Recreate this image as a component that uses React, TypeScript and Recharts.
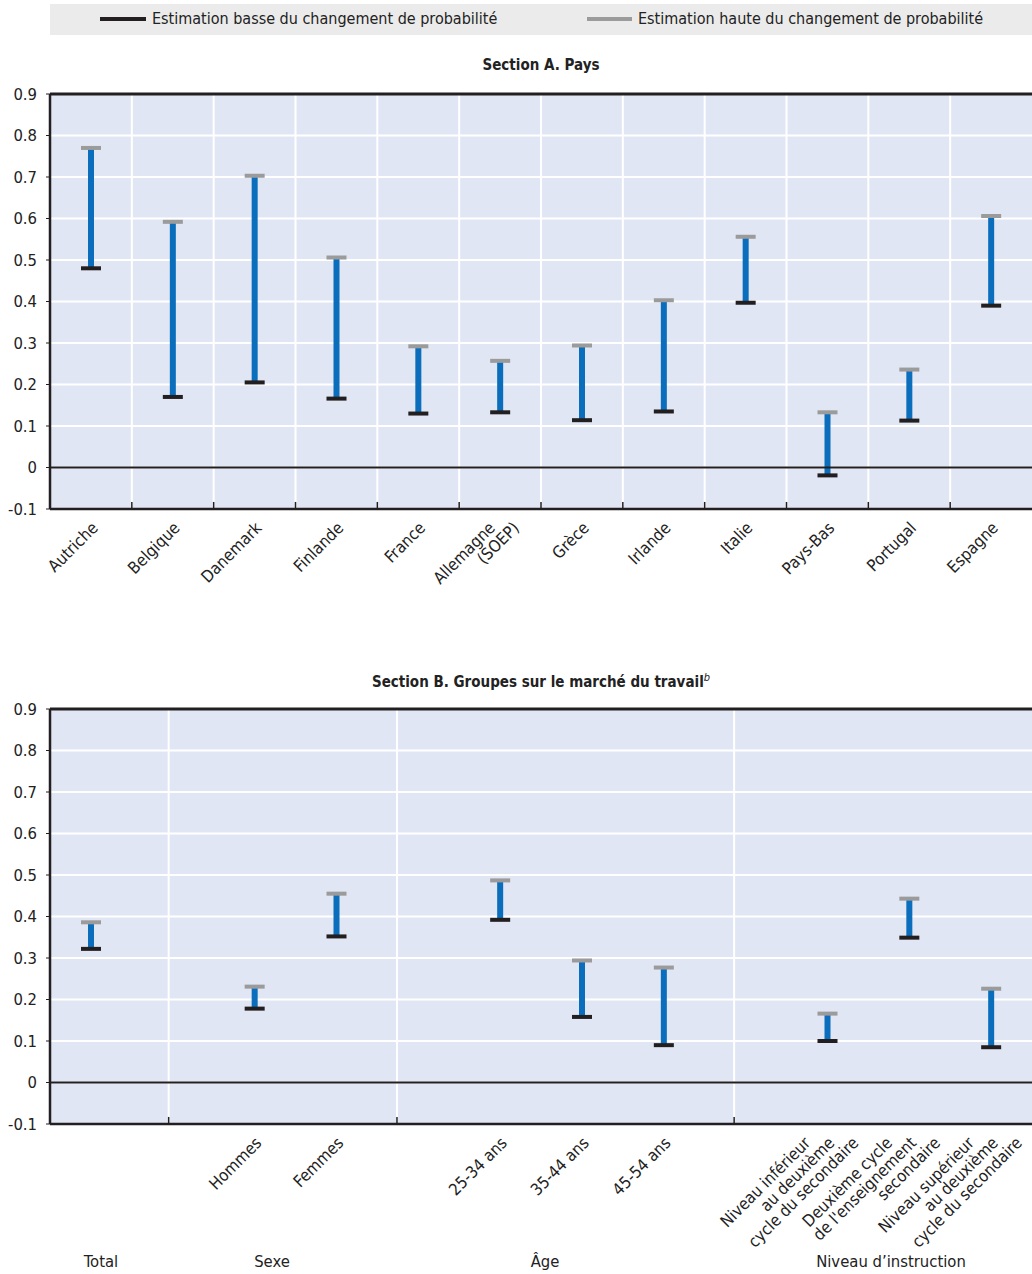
import { BarChart, Bar, XAxis, YAxis, CartesianGrid, ReferenceLine } from "recharts";

const FONT = "'Liberation Sans Narrow', 'DejaVu Sans Condensed', 'Liberation Sans', sans-serif";

// Section A
const countries = [
  "Autriche", "Belgique", "Danemark", "Finlande", "France", "Allemagne (SOEP)",
  "Grèce", "Irlande", "Italie", "Pays-Bas", "Portugal", "Espagne",
];
const countryLow = [0.48, 0.17, 0.205, 0.166, 0.13, 0.133, 0.114, 0.135, 0.397, -0.019, 0.113, 0.39];
const countryHigh = [0.77, 0.592, 0.703, 0.506, 0.292, 0.257, 0.294, 0.403, 0.556, 0.133, 0.236, 0.606];

// Section B (empty slots between groups)
const groupSlots = [
  "Total", "", "Hommes", "Femmes", " ", "25-34 ans", "35-44 ans", "45-54 ans", "  ",
  "Niveau inférieur au deuxième cycle du secondaire",
  "Deuxième cycle de l'enseignement secondaire",
  "Niveau supérieur au deuxième cycle du secondaire",
];
const groupLow = [0.322, null, 0.178, 0.352, null, 0.392, 0.158, 0.09, null, 0.1, 0.349, 0.085];
const groupHigh = [0.386, null, 0.231, 0.455, null, 0.487, 0.294, 0.277, null, 0.166, 0.443, 0.226];
const groupNames = ["Total", "Sexe", "Âge", "Niveau d’instruction"];
const groupSeparators = [1.45, 4.24, 8.36];

const yTicks = [-0.1, 0, 0.1, 0.2, 0.3, 0.4, 0.5, 0.6, 0.7, 0.8, 0.9];
const countrySeparators = [1, 2, 3, 4, 5, 6, 7, 8, 9, 10, 11];

// "Total" only appears as a group label under the axis
const labelLines: Record<string, string[]> = {
  "Total": [],
  "Allemagne (SOEP)": ["Allemagne", "(SOEP)"],
  "Niveau inférieur au deuxième cycle du secondaire": ["Niveau inférieur", "au deuxième", "cycle du secondaire"],
  "Deuxième cycle de l'enseignement secondaire": ["Deuxième cycle", "de l'enseignement", "secondaire"],
  "Niveau supérieur au deuxième cycle du secondaire": ["Niveau supérieur", "au deuxième", "cycle du secondaire"],
};

const countryData = countries.map((name, i) => ({ name, pos: i + 0.5, range: [countryLow[i], countryHigh[i]] }));
const groupData = groupSlots.map((name, i) =>
  ({ name, pos: i + 0.5, range: groupLow[i] == null ? null : [groupLow[i], groupHigh[i]] }));

const BLUE = "#0A6EBD";
const GREY = "#9B9B9B";
const DARK = "#231F20";
const PLOT_BG = "#E0E6F3";

function RangeShape(props: any) {
  const { x, y, width, height, payload } = props;
  if (!payload || payload.range == null) return null;
  const cx = x + width / 2;
  const top = Math.min(y, y + height);
  const bottom = Math.max(y, y + height);
  return (
    <g>
      <rect x={cx - 3} y={top} width={6} height={bottom - top} fill={BLUE} />
      <rect x={cx - 10} y={top - 2} width={20} height={4} fill={GREY} />
      <rect x={cx - 10} y={bottom - 2} width={20} height={4} fill={DARK} />
    </g>
  );
}

function AngledTick(props: any) {
  const { x, y, payload } = props;
  const value = String(payload.value);
  if (!value.trim()) return null;
  const lines = labelLines[value] || [value];
  const n = lines.length;
  return (
    <g>
      {lines.map((line, i) => (
        <text
          key={i}
          transform={`translate(${x + 8 + (i - (n - 1) / 2) * 24},${y + 12}) rotate(-45)`}
          textAnchor="end"
          fontSize={16.5}
          fontFamily={FONT}
          fill="#222"
        >
          {line}
        </text>
      ))}
    </g>
  );
}

const fmt = (v: number) => (v === 0 ? "0" : v.toFixed(1));

function Panel({ data, separators, height, xHeight }: any) {
  return (
    <BarChart
      width={1032}
      height={height}
      data={data}
      margin={{ top: 10, right: 0, bottom: 0, left: 0 }}
      barSize={6}
    >
      <CartesianGrid vertical={false} stroke="#fff" strokeWidth={2} fill={PLOT_BG} />
      <XAxis
        xAxisId="cat"
        dataKey="name"
        interval={0}
        height={xHeight}
        tickLine={false}
        axisLine={{ stroke: DARK, strokeWidth: 2.5 }}
        tick={<AngledTick />}
      />
      <XAxis xAxisId="num" dataKey="pos" type="number" domain={[0, 12]} hide allowDataOverflow />
      <YAxis
        domain={[-0.1, 0.9]}
        ticks={yTicks}
        width={50}
        tickFormatter={fmt}
        axisLine={{ stroke: DARK, strokeWidth: 2.5 }}
        tickLine={{ stroke: DARK }}
        tickSize={4}
        tickMargin={9}
        tick={{ fontSize: 16.5, fontFamily: FONT, fill: "#222" }}
        allowDataOverflow
      />
      {separators.map((s: number) => (
        <ReferenceLine key={"g" + s} xAxisId="num" x={s} stroke="#fff" strokeWidth={2} />
      ))}
      {separators.map((s: number) => (
        <ReferenceLine
          key={"t" + s}
          xAxisId="num"
          segment={[{ x: s, y: -0.1 }, { x: s, y: -0.083 }]}
          stroke={DARK}
          strokeWidth={1.5}
        />
      ))}
      <ReferenceLine xAxisId="cat" y={0} stroke={DARK} strokeWidth={2} />
      <ReferenceLine xAxisId="cat" y={0.9} stroke={DARK} strokeWidth={3} />
      <Bar xAxisId="cat" dataKey="range" shape={<RangeShape />} isAnimationActive={false} />
    </BarChart>
  );
}

export default function App() {
  const text = { fontFamily: FONT, color: "#222" };
  return (
    <div style={{ position: "absolute", left: 0, top: 0, width: 1032, height: 1274, background: "#fff", overflow: "hidden" }}>
      <div style={{ position: "absolute", left: 50, top: 4, width: 982, height: 31, background: "#EBEBEB" }}>
        <div style={{ position: "absolute", left: 50, top: 13, width: 46, height: 4, background: DARK }} />
        <div style={{ ...text, position: "absolute", left: 102, top: 5, fontSize: 16, lineHeight: "20px", whiteSpace: "nowrap" }}>
          Estimation basse du changement de probabilité
        </div>
        <div style={{ position: "absolute", left: 537, top: 13, width: 45, height: 4, background: GREY }} />
        <div style={{ ...text, position: "absolute", left: 588, top: 5, fontSize: 16, lineHeight: "20px", whiteSpace: "nowrap" }}>
          Estimation haute du changement de probabilité
        </div>
      </div>

      <div style={{ ...text, position: "absolute", left: 50, top: 56, width: 982, textAlign: "center", fontSize: 15, fontWeight: "bold" }}>
        Section A. Pays
      </div>
      <div style={{ position: "absolute", left: 0, top: 84 }}>
        <Panel data={countryData} separators={countrySeparators} height={520} xHeight={95} />
      </div>

      <div style={{ ...text, position: "absolute", left: 50, top: 671, width: 982, textAlign: "center", fontSize: 15, fontWeight: "bold" }}>
        Section B. Groupes sur le marché du travail
        <sup style={{ fontWeight: "normal", fontStyle: "italic", fontSize: 11 }}>b</sup>
      </div>
      <div style={{ position: "absolute", left: 0, top: 699 }}>
        <Panel data={groupData} separators={groupSeparators} height={575} xHeight={150} />
      </div>

      {groupNames.map((g, i) => (
        <div
          key={g}
          style={{
            ...text,
            position: "absolute",
            left: [101, 272, 545, 891][i] - 100,
            width: 200,
            top: 1252,
            textAlign: "center",
            fontSize: 16.5,
          }}
        >
          {g}
        </div>
      ))}
    </div>
  );
}
